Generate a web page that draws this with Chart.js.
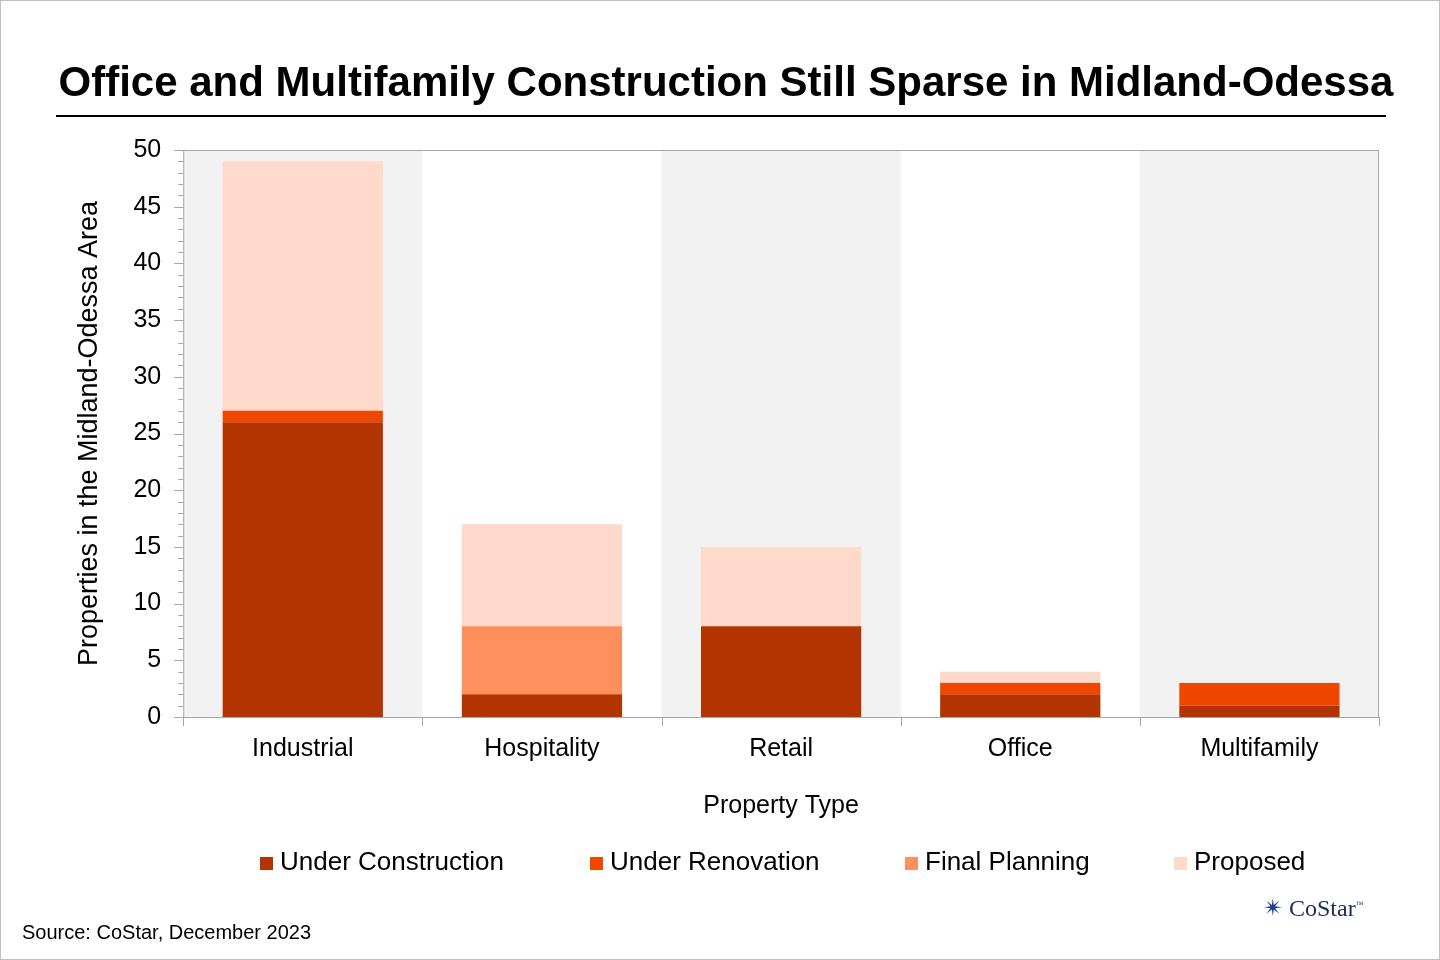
<!DOCTYPE html>
<html><head><meta charset="utf-8">
<script src="https://cdn.jsdelivr.net/npm/chart.js@4"></script>
<style>
body{margin:0;background:#fff;font-family:"Liberation Sans",Arial,sans-serif;}
#wrap{position:relative;width:1438px;height:958px;border:1px solid #bfbfbf;overflow:hidden;}
#title{position:absolute;left:0;width:1450px;top:57px;text-align:center;font-weight:bold;font-size:42px;color:#000;}
#rule{position:absolute;left:55px;width:1330px;top:114px;height:2px;background:#000;}
#src{position:absolute;left:21px;top:920px;font-size:20px;}
#logo{position:absolute;left:1262px;top:893px;font-family:"Liberation Serif",serif;font-size:24px;color:#1a2a5a;}
#legend .it{position:absolute;top:845px;font-size:26px;white-space:nowrap;}
#legend .sw{display:inline-block;width:13px;height:13px;margin-right:7px;}
canvas{position:absolute;left:0;top:0;}
</style></head><body>
<div id="wrap">
<canvas id="c" width="1438" height="958"></canvas>
<div id="title">Office and Multifamily Construction Still Sparse in Midland-Odessa</div>
<div id="rule"></div>
<div id="legend"></div>
<div id="src">Source: CoStar, December 2023</div>
<div id="logo"><span style="color:#1d3f8f">&#10036;</span> CoStar<sup style="font-size:8px">™</sup></div>
</div>
<script>
const categories = ['Industrial', 'Hospitality', 'Retail', 'Office', 'Multifamily'];
const underConstruction = [26, 2, 8, 2, 1];
const underRenovation = [1, 0, 0, 1, 2];
const finalPlanning = [0, 6, 0, 0, 0];
const proposed = [22, 9, 7, 1, 0];
const seriesNames = ['Under Construction', 'Under Renovation', 'Final Planning', 'Proposed'];
const seriesColors = ['#b33400', '#ef4600', '#ff8f5c', '#ffd9ca'];

const legendLeft = [259, 589, 904, 1173];
const legend = document.getElementById('legend');
seriesNames.forEach((n, i) => {
    const d = document.createElement('div');
    d.className = 'it';
    d.style.left = legendLeft[i] + 'px';
    d.innerHTML = '<span class="sw" style="background:' + seriesColors[i] + '"></span>' + n;
    legend.appendChild(d);
});

const bands = {
    id: 'bands',
    beforeDatasetsDraw(chart) {
        const {ctx, chartArea, scales} = chart;
        const x = scales.x;
        const w = x.getPixelForValue(1) - x.getPixelForValue(0);
        ctx.save();
        ctx.fillStyle = '#f2f2f2';
        for (let i = 0; i < categories.length; i += 2) {
            const cx = x.getPixelForValue(i);
            ctx.fillRect(cx - w / 2, chartArea.top, w, chartArea.bottom - chartArea.top);
        }
        ctx.restore();
    },
    afterDraw(chart) {
        const {ctx, chartArea, scales} = chart;
        const y = scales.y, x = scales.x;
        const w = x.getPixelForValue(1) - x.getPixelForValue(0);
        ctx.save();
        ctx.strokeStyle = '#a6a6a6';
        ctx.lineWidth = 1;
        ctx.beginPath();
        for (let v = 0; v <= 50; v++) {
            const py = Math.round(y.getPixelForValue(v)) + 0.5;
            const len = v % 5 === 0 ? 9 : 5;
            ctx.moveTo(chartArea.left - len, py);
            ctx.lineTo(chartArea.left, py);
        }
        for (let i = 0; i <= categories.length; i++) {
            const px = Math.round(x.getPixelForValue(0) - w / 2 + i * w) + 0.5;
            ctx.moveTo(px, chartArea.bottom);
            ctx.lineTo(px, chartArea.bottom + 9);
        }
        ctx.moveTo(chartArea.left, chartArea.bottom + 0.5);
        ctx.lineTo(chartArea.right, chartArea.bottom + 0.5);
        ctx.moveTo(chartArea.left + 0.5, chartArea.top);
        ctx.lineTo(chartArea.left + 0.5, chartArea.bottom);
        ctx.moveTo(chartArea.right - 0.5, chartArea.top);
        ctx.lineTo(chartArea.right - 0.5, chartArea.bottom);
        ctx.moveTo(chartArea.left, chartArea.top + 0.5);
        ctx.lineTo(chartArea.right, chartArea.top + 0.5);
        ctx.stroke();
        ctx.restore();
    }
};

Chart.defaults.font.family = '"Liberation Sans", Arial, sans-serif';
Chart.defaults.color = '#000';

const seriesData = [underConstruction, underRenovation, finalPlanning, proposed];

new Chart(document.getElementById('c'), {
    type: 'bar',
    data: {
        labels: categories,
        datasets: seriesNames.map((n, i) => ({label: n, data: seriesData[i], backgroundColor: seriesColors[i]}))
    },
    options: {
        responsive: false,
        animation: false,
        layout: {padding: {top: 149, left: 68, right: 60, bottom: 134}},
        datasets: {bar: {categoryPercentage: 1, barPercentage: 0.67}},
        scales: {
            x: {
                stacked: true,
                grid: {display: false},
                border: {display: false},
                ticks: {font: {size: 25}, padding: 9},
                title: {display: true, text: 'Property Type', font: {size: 25}, padding: {top: 18}}
            },
            y: {
                stacked: true, min: 0, max: 50,
                grid: {display: false},
                border: {display: false},
                ticks: {stepSize: 5, font: {size: 25}, padding: 14},
                title: {display: true, text: 'Properties in the Midland-Odessa Area', font: {size: 27}, padding: {bottom: 14}}
            }
        },
        plugins: {
            legend: {display: false},
            tooltip: {enabled: false}
        }
    },
    plugins: [bands]
});
</script>
</body></html>
